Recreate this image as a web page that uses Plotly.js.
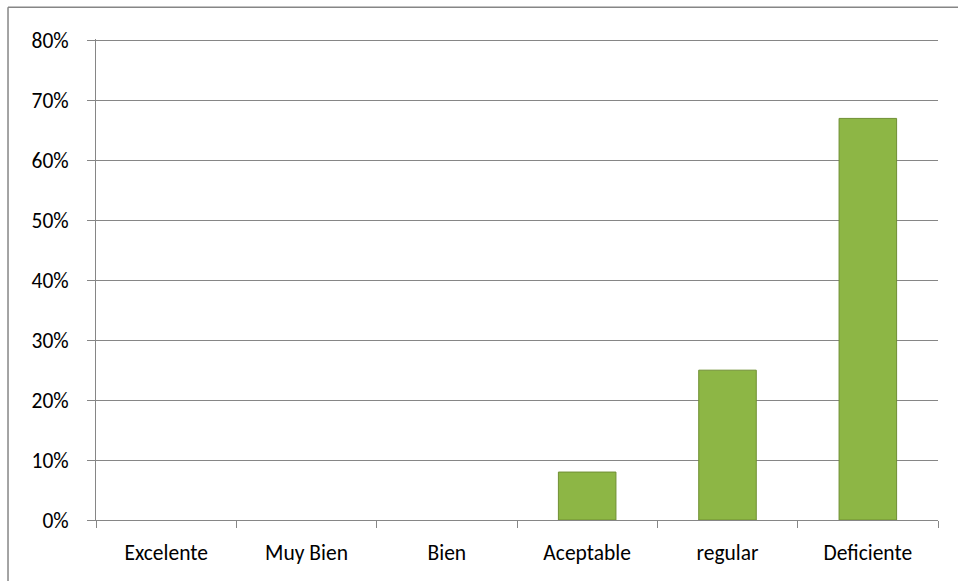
<!DOCTYPE html>
<html>
<head>
<meta charset="utf-8">
<script src="https://cdn.plot.ly/plotly-3.0.1.min.js"></script>
<style>html,body{margin:0;padding:0;background:#fff;}#chart{width:958px;height:581px;}</style>
</head>
<body>
<div id="chart"></div>
<script>
var categories = ["Excelente", "Muy Bien", "Bien", "Aceptable", "regular", "Deficiente"];
var values = [0, 0, 0, 0.08, 0.25, 0.67];
var yTicks = [0, 0.1, 0.2, 0.3, 0.4, 0.5, 0.6, 0.7, 0.8];

var fontFam = "Carlito, Lato, 'Liberation Sans', sans-serif";

var trace = {
  type: "bar",
  x: categories,
  y: values,
  marker: {
    color: "#8db645",
    line: {color: "#6f8f33", width: values.map(function (v) { return v > 0 ? 1 : 0; })}
  },
  hoverinfo: "x+y"
};

var layout = {
  width: 958,
  height: 581,
  margin: {l: 96, r: 20, t: 39, b: 61, pad: 0},
  paper_bgcolor: "#ffffff",
  plot_bgcolor: "#ffffff",
  bargap: 0.59,
  showlegend: false,
  font: {family: fontFam, size: 21.5, color: "#000000"},
  xaxis: {
    type: "category",
    showline: true,
    linecolor: "#868686",
    linewidth: 1,
    ticks: "outside",
    tickson: "boundaries",
    ticklen: 7,
    tickcolor: "#868686",
    showgrid: false,
    ticklabelstandoff: 13,
    tickfont: {family: fontFam, size: 21.5, color: "#000000"}
  },
  yaxis: {
    range: [0, 0.8025],
    tickvals: yTicks,
    tickformat: ".0%",
    showline: true,
    linecolor: "#868686",
    linewidth: 1,
    ticks: "outside",
    ticklen: 8,
    tickcolor: "#868686",
    showgrid: true,
    gridcolor: "#868686",
    gridwidth: 1,
    zeroline: false,
    ticklabelstandoff: 14,
    tickfont: {family: fontFam, size: 21.5, color: "#000000"}
  },
  shapes: [
    {type: "line", xref: "paper", yref: "paper", x0: -0.1045, x1: -0.1045, y0: 1.066, y1: -0.2, line: {color: "#868686", width: 1.5}},
    {type: "line", xref: "paper", yref: "paper", x0: -0.1045, x1: 1.05, y0: 1.066, y1: 1.066, line: {color: "#868686", width: 1.5}}
  ]
};

Plotly.newPlot("chart", [trace], layout, {displayModeBar: false, staticPlot: true});
</script>
</body>
</html>
